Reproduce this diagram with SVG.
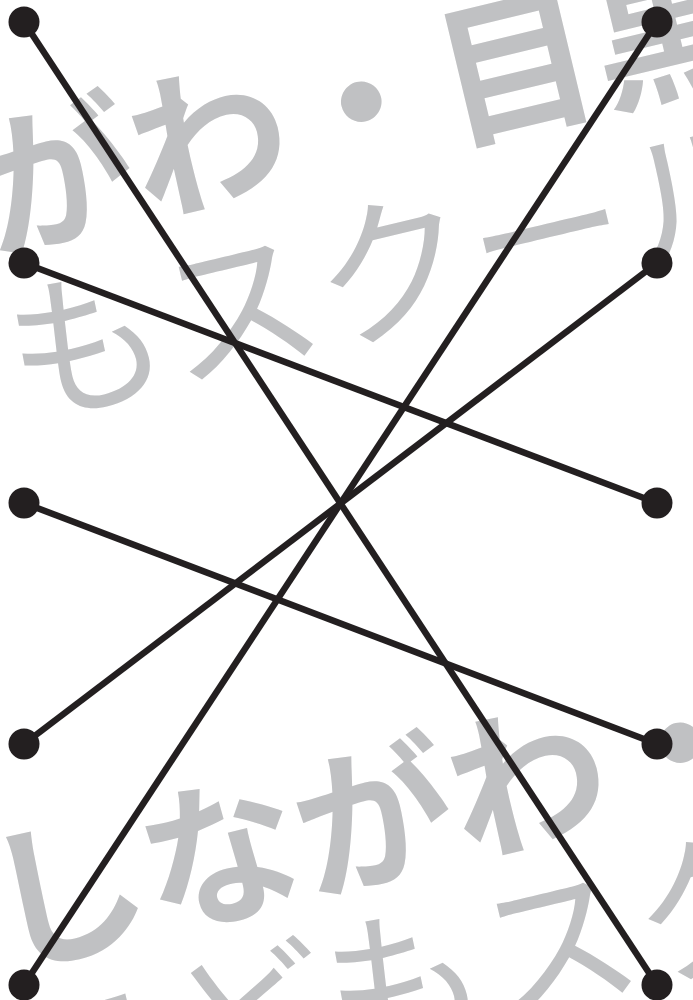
<svg xmlns="http://www.w3.org/2000/svg" width="693" height="1000" viewBox="0 0 693 1000">
<style>
.bg{fill:#c0c1c3;font-family:"Noto Sans CJK JP","Noto Sans CJK SC",sans-serif;font-size:158px}
.b{font-weight:700}
.l{font-weight:400}
.edge{stroke:#231f20;stroke-width:6.5;fill:none}
.dot{fill:#231f20}
</style>
<g id="background">
<text class="bg b" transform="translate(-316,326) rotate(-13.5)">しながわ・目黒</text>
<text class="bg l" transform="translate(-285,493) rotate(-13.5)">こどもスクール</text>
<text class="bg b" transform="translate(3,967) rotate(-13.5)">しながわ・目黒</text>
<text class="bg l" transform="translate(33,1130) rotate(-13.5)">こどもスクール</text>
</g>
<g id="connectors">
<line class="edge" x1="24" y1="22" x2="657" y2="985"/>
<line class="edge" x1="24" y1="263" x2="657" y2="503"/>
<line class="edge" x1="24" y1="503" x2="657" y2="744"/>
<line class="edge" x1="24" y1="744" x2="657" y2="263"/>
<line class="edge" x1="24" y1="985" x2="657" y2="22"/>
</g>
<g id="L1"><circle class="dot" cx="24" cy="22" r="15.5"/></g>
<g id="L2"><circle class="dot" cx="24" cy="263" r="15.5"/></g>
<g id="L3"><circle class="dot" cx="24" cy="503" r="15.5"/></g>
<g id="L4"><circle class="dot" cx="24" cy="744" r="15.5"/></g>
<g id="L5"><circle class="dot" cx="24" cy="985" r="15.5"/></g>
<g id="R1"><circle class="dot" cx="657" cy="22" r="15.5"/></g>
<g id="R2"><circle class="dot" cx="657" cy="263" r="15.5"/></g>
<g id="R3"><circle class="dot" cx="657" cy="503" r="15.5"/></g>
<g id="R4"><circle class="dot" cx="657" cy="744" r="15.5"/></g>
<g id="R5"><circle class="dot" cx="657" cy="985" r="15.5"/></g>
</svg>
